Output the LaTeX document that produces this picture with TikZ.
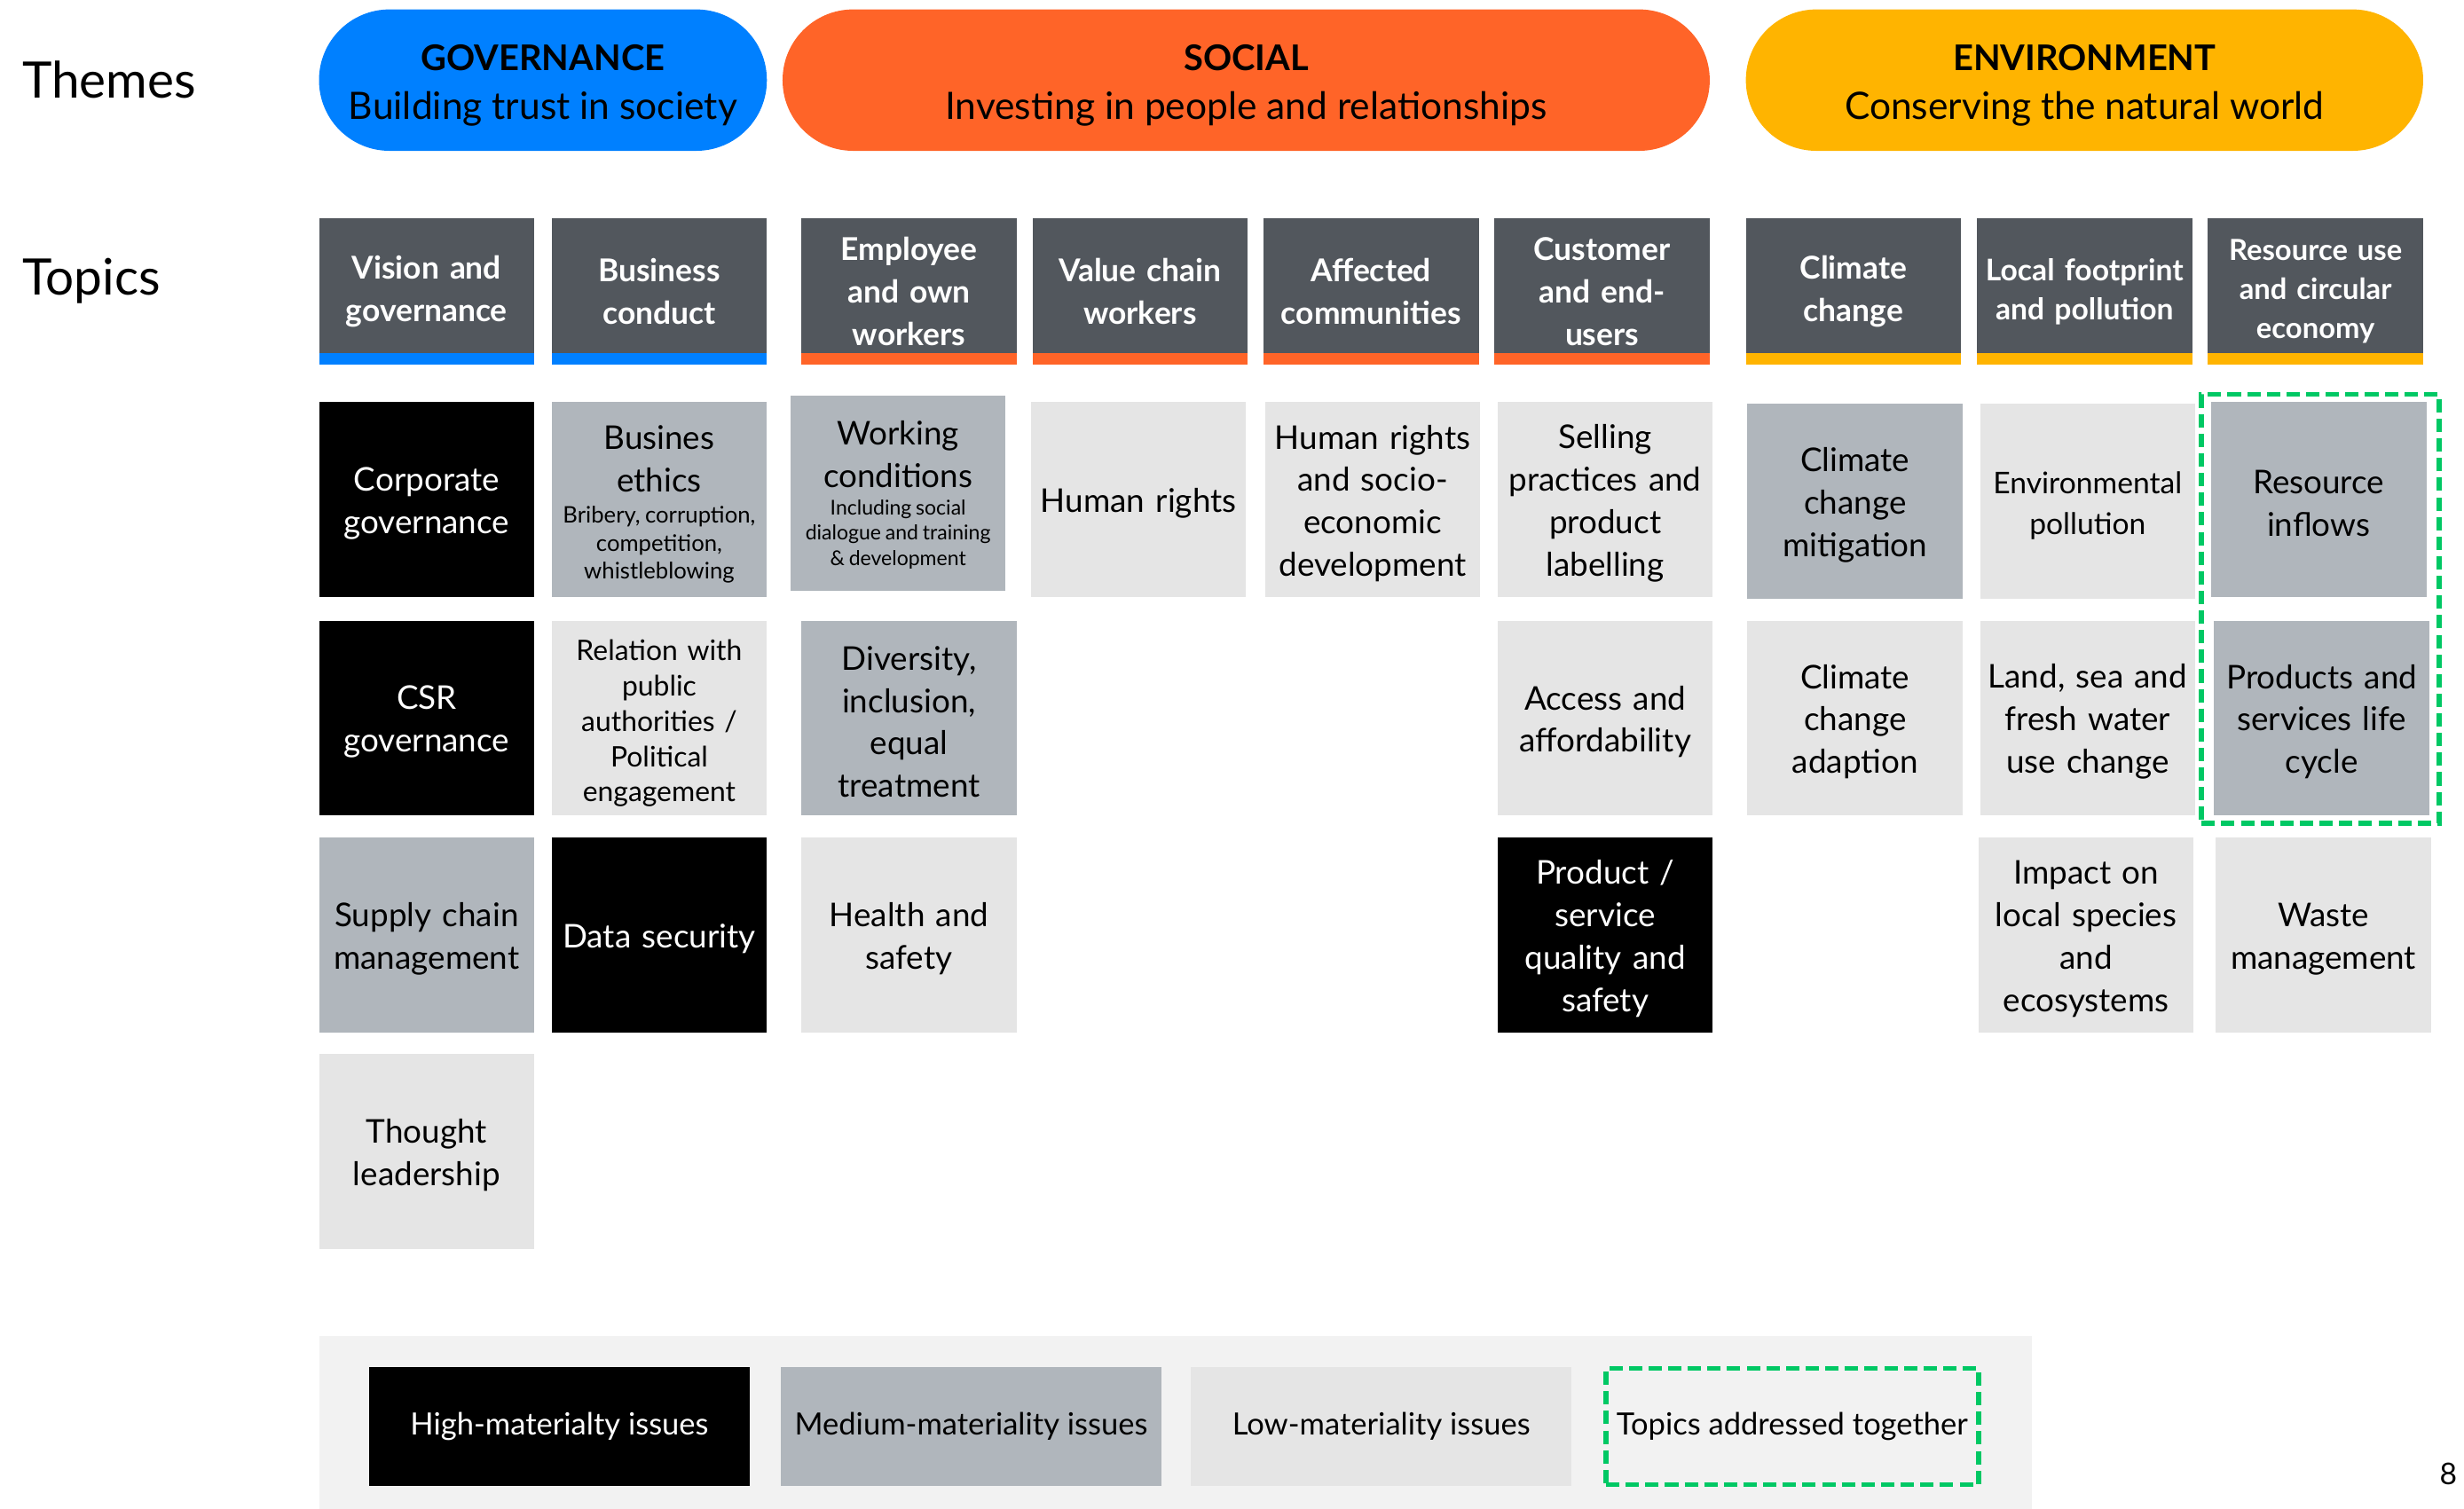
\documentclass[tikz,border=0pt]{standalone}
\usepackage{fontspec}
\setmainfont{Lato}
\usetikzlibrary{fit}
\definecolor{govblue}{HTML}{0080FF}
\definecolor{socorange}{HTML}{FF6428}
\definecolor{envamber}{HTML}{FFB400}
\definecolor{hdrgray}{HTML}{52575D}
\definecolor{medgray}{HTML}{B0B6BC}
\definecolor{lowgray}{HTML}{E5E5E5}
\definecolor{legendbg}{HTML}{F2F2F2}
\definecolor{grouping}{HTML}{00C864}
\newcommand{\smalltxt}[3]{{\fontsize{#1}{#2}\selectfont\spaceskip=.21em plus .08em minus .04em\relax\begin{tabular}{@{}c@{}}#3\end{tabular}}}
\begin{document}
\begin{tikzpicture}[x=1pt,y=-1pt,
  pill/.style={rounded corners=44.9pt, minimum height=90pt, inner sep=0pt, align=center, font=\fontsize{24}{31}\selectfont},
  sidelabel/.style={anchor=base west, inner sep=0pt, font=\fontsize{32}{38}\selectfont},
  hdr/.style={anchor=north west, inner sep=0pt, outer sep=0pt, minimum width=137pt, minimum height=93pt, fill=hdrgray, text=white, text width=135pt, align=center, font=\bfseries\fontsize{20}{27}\selectfont},
  cell/.style={anchor=north west, inner sep=0pt, outer sep=0pt, minimum width=137pt, minimum height=124pt, text width=135pt, align=center, font=\fontsize{20.8}{27}\selectfont, execute at begin node={\rule{0pt}{20pt}}},
  high/.style={cell, fill=black, text=white},
  med/.style={cell, fill=medgray},
  low/.style={cell, fill=lowgray},
  together/.style={draw=grouping, line width=3.2pt, dash pattern=on 8.5pt off 4pt},
  legitem/.style={anchor=north west, inner sep=0pt, outer sep=0pt, minimum width=242pt, minimum height=76pt, align=center, font=\fontsize{19.5}{23}\selectfont}
]
\useasboundingbox (0,0) rectangle (1568,960);

% side labels
\node[sidelabel] (themes) at (14,62.5) {Themes};
\node[sidelabel] (topics) at (14,188) {Topics};

% theme pills
\node[pill, fill=govblue, minimum width=285pt] (gov) at (345.5,51)
  {\rule{0pt}{23pt}{\bfseries\fontsize{22.5}{31}\selectfont GOVERNANCE}\\Building trust in society};
\node[pill, fill=socorange, minimum width=590pt] (soc) at (793,51)
  {\rule{0pt}{23pt}{\bfseries\fontsize{22.5}{31}\selectfont SOCIAL}\\Investing in people and relationships};
\node[pill, fill=envamber, minimum width=431pt] (env) at (1326.5,51)
  {\rule{0pt}{23pt}{\bfseries\fontsize{22.5}{31}\selectfont ENVIRONMENT}\\Conserving the natural world};

% topic headers
\node[hdr] (h1) at (203,139) {Vision and\\governance};
\node[hdr] (h2) at (351,139) {Business\\conduct};
\node[hdr] (h3) at (510,139) {Employee\\and own\\workers};
\node[hdr] (h4) at (657,139) {Value chain\\workers};
\node[hdr] (h5) at (804,139) {Affected\\communities};
\node[hdr] (h6) at (951,139) {Customer\\and end-\\users};
\node[hdr] (h7) at (1111,139) {Climate\\change};
\node[hdr, font=\bfseries\fontsize{19}{25}\selectfont] (h8) at (1258,139) {Local footprint\\and pollution};
\node[hdr, font=\bfseries\fontsize{18.5}{25}\selectfont] (h9) at (1405,139) {Resource use\\and circular\\economy};
\foreach \h in {h1,h2} \fill[govblue] (\h.south west) rectangle ([yshift=7pt]\h.south east);
\foreach \h in {h3,h4,h5,h6} \fill[socorange] (\h.south west) rectangle ([yshift=7pt]\h.south east);
\foreach \h in {h7,h8,h9} \fill[envamber] (\h.south west) rectangle ([yshift=7pt]\h.south east);

% row 1
\node[high] (cg) at (203,256) {Corporate\\governance};
\node[med] (be) at (351,256) {\rule{0pt}{24pt}Busines\\ethics\\[6pt]\smalltxt{14.5}{18}{Bribery, corruption,\\competition,\\whistleblowing}};
\node[med] (wc) at (503,252) {Working\\conditions\\[5pt]\smalltxt{13}{16}{Including social\\dialogue and training\\\& development}};
\node[low] (hr) at (656,256) {Human rights};
\node[low] (hrs) at (805,256) {Human rights\\and socio-\\economic\\development};
\node[low] (sp) at (953,256) {Selling\\practices and\\product\\labelling};
\node[med] (ccm) at (1112,257) {Climate\\change\\mitigation};
\node[low, font=\fontsize{19}{26}\selectfont] (ep) at (1260,257) {Environmental\\pollution};
\node[med] (ri) at (1407,256) {Resource\\inflows};

% row 2
\node[high] (csr) at (203,395) {CSR\\governance};
\node[low, font=\fontsize{18}{22.5}\selectfont] (rel) at (351,395) {Relation with\\public\\authorities /\\Political\\engagement};
\node[med] (div) at (510,395) {Diversity,\\inclusion,\\equal\\treatment};
\node[low] (aa) at (953,395) {Access and\\affordability};
\node[low] (cca) at (1112,395) {Climate\\change\\adaption};
\node[low] (ls) at (1260,395) {Land, sea and\\fresh water\\use change};
\node[med] (ps) at (1409,395) {Products and\\services life\\cycle};

% row 3
\node[med] (sc) at (203,533) {Supply chain\\management};
\node[high] (ds) at (351,533) {Data security};
\node[low] (hs) at (510,533) {Health and\\safety};
\node[high] (pq) at (953,533) {Product /\\service\\quality and\\safety};
\node[low] (il) at (1259,533) {Impact on\\local species\\and\\ecosystems};
\node[low] (wm) at (1410,533) {Waste\\management};

% row 4
\node[low] (tl) at (203,671) {Thought\\leadership};

% topics addressed together
\node[together, fit=(ri)(ps), inner xsep=6pt, inner ysep=5pt] (grp) {};

% legend
\node[anchor=north west, fill=legendbg, inner sep=0pt, minimum width=1090pt, minimum height=110pt] (legend) at (203,850) {};
\node[legitem, fill=black, text=white] (lhigh) at (235,870) {High-materialty issues};
\node[legitem, fill=medgray] (lmed) at (497,870) {Medium-materiality issues};
\node[legitem, fill=lowgray] (llow) at (758,870) {Low-materiality issues};
\node[legitem, together, minimum width=237pt, minimum height=74pt] (ltog) at (1022,871) {Topics addressed together};

% page number
\node[inner sep=0pt, font=\fontsize{19}{22}\selectfont] (pagenum) at (1558,938) {8};
\end{tikzpicture}
\end{document}
